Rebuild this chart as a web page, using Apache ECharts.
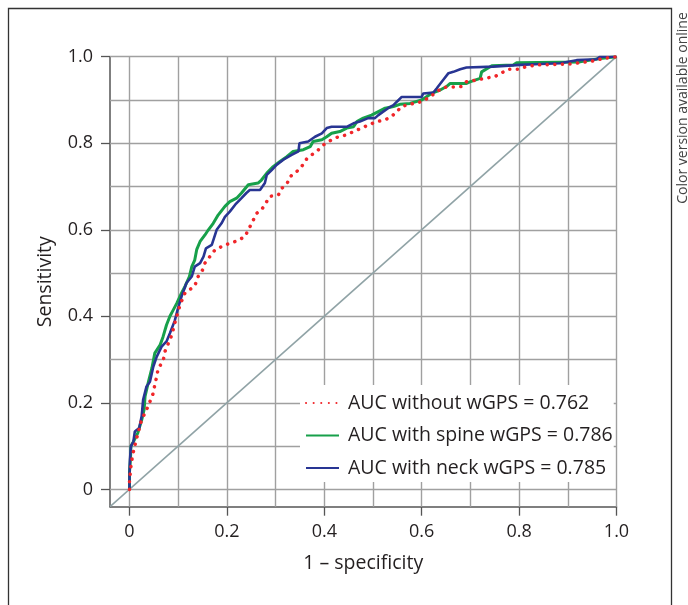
<!DOCTYPE html>
<html>
<head>
<meta charset="utf-8">
<script src="https://cdn.jsdelivr.net/npm/echarts@6/dist/echarts.min.js"></script>
<style>
html,body{margin:0;padding:0;background:#fff;}
#main{width:688px;height:605px;}
</style>
</head>
<body>
<div id="main"></div>
<script>
// ROC curves, points as [1 - specificity, sensitivity]
var withoutGps=[[0,0],[0,0.02],[0.003,0.053],[0.006,0.076],[0.009,0.092],[0.015,0.119],[0.025,0.161],[0.035,0.184],[0.042,0.203],[0.049,0.223],[0.052,0.242],[0.056,0.261],[0.059,0.28],[0.069,0.296],[0.073,0.319],[0.08,0.338],[0.087,0.357],[0.093,0.384],[0.104,0.427],[0.114,0.454],[0.134,0.47],[0.141,0.492],[0.15,0.507],[0.155,0.523],[0.165,0.538],[0.176,0.554],[0.189,0.561],[0.206,0.569],[0.22,0.574],[0.237,0.584],[0.244,0.6],[0.251,0.615],[0.261,0.638],[0.271,0.646],[0.278,0.658],[0.288,0.677],[0.306,0.681],[0.313,0.696],[0.324,0.708],[0.33,0.723],[0.343,0.734],[0.354,0.747],[0.364,0.764],[0.374,0.773],[0.388,0.785],[0.398,0.796],[0.415,0.808],[0.429,0.815],[0.445,0.819],[0.46,0.827],[0.477,0.835],[0.49,0.842],[0.508,0.85],[0.525,0.854],[0.538,0.862],[0.549,0.873],[0.559,0.885],[0.583,0.892],[0.6,0.896],[0.617,0.907],[0.631,0.919],[0.644,0.929],[0.682,0.931],[0.692,0.942],[0.713,0.946],[0.73,0.95],[0.75,0.954],[0.778,0.971],[0.798,0.971],[0.812,0.976],[0.836,0.981],[0.905,0.983],[0.925,0.986],[0.952,0.99],[0.973,0.996],[1,1]];
var spineGps=[[0,0],[0,0.04],[0.002,0.07],[0.003,0.1],[0.008,0.11],[0.017,0.13],[0.025,0.16],[0.03,0.184],[0.032,0.215],[0.039,0.249],[0.046,0.28],[0.052,0.315],[0.063,0.334],[0.069,0.353],[0.076,0.38],[0.083,0.4],[0.09,0.415],[0.097,0.43],[0.107,0.454],[0.114,0.469],[0.123,0.492],[0.128,0.515],[0.134,0.53],[0.138,0.554],[0.145,0.573],[0.155,0.588],[0.162,0.6],[0.172,0.615],[0.182,0.634],[0.196,0.654],[0.206,0.665],[0.22,0.673],[0.23,0.685],[0.244,0.704],[0.264,0.708],[0.271,0.715],[0.282,0.731],[0.295,0.746],[0.309,0.758],[0.323,0.769],[0.336,0.781],[0.357,0.785],[0.371,0.792],[0.377,0.804],[0.395,0.808],[0.405,0.815],[0.415,0.823],[0.432,0.827],[0.446,0.835],[0.46,0.838],[0.467,0.85],[0.48,0.858],[0.497,0.865],[0.511,0.873],[0.525,0.881],[0.542,0.885],[0.555,0.89],[0.576,0.892],[0.6,0.9],[0.62,0.915],[0.638,0.923],[0.651,0.931],[0.658,0.938],[0.692,0.938],[0.699,0.942],[0.72,0.95],[0.723,0.965],[0.744,0.979],[0.788,0.981],[0.795,0.986],[0.925,0.988],[0.966,0.996],[1,1]];
var neckGps=[[0,0],[0,0.03],[0.001,0.069],[0.003,0.1],[0.008,0.11],[0.011,0.134],[0.02,0.142],[0.025,0.169],[0.028,0.207],[0.035,0.238],[0.042,0.249],[0.049,0.284],[0.056,0.307],[0.066,0.33],[0.076,0.342],[0.083,0.361],[0.093,0.39],[0.1,0.42],[0.107,0.446],[0.117,0.477],[0.128,0.492],[0.134,0.515],[0.145,0.523],[0.152,0.538],[0.157,0.557],[0.169,0.565],[0.179,0.6],[0.189,0.615],[0.196,0.63],[0.206,0.642],[0.217,0.658],[0.23,0.673],[0.24,0.685],[0.247,0.692],[0.268,0.692],[0.278,0.708],[0.282,0.727],[0.292,0.738],[0.302,0.75],[0.316,0.762],[0.333,0.773],[0.347,0.781],[0.349,0.8],[0.367,0.804],[0.381,0.815],[0.395,0.823],[0.405,0.835],[0.415,0.838],[0.446,0.838],[0.46,0.846],[0.473,0.85],[0.49,0.858],[0.504,0.858],[0.511,0.865],[0.521,0.873],[0.531,0.881],[0.542,0.888],[0.549,0.896],[0.559,0.907],[0.6,0.907],[0.603,0.915],[0.624,0.917],[0.631,0.927],[0.644,0.946],[0.655,0.962],[0.665,0.965],[0.679,0.971],[0.692,0.975],[0.747,0.977],[0.802,0.981],[0.843,0.983],[0.884,0.985],[0.918,0.992],[0.959,0.994],[0.966,1],[1,1]];
var chanceLine=[[-0.04,-0.04],[1,1]];

var seriesNames=['AUC without wGPS = 0.762','AUC with spine wGPS = 0.786','AUC with neck wGPS = 0.785'];
var tickValues=[0,0.2,0.4,0.6,0.8,1.0];
var gridValues=[0,0.1,0.2,0.3,0.4,0.5,0.6,0.7,0.8,0.9,1.0];

var FONT='"Open Sans", "Noto Sans", sans-serif';
var chart=echarts.init(document.getElementById('main'),null,{renderer:'canvas'});

function fmt(v){ return v===0 ? '0' : v.toFixed(1); }

var gridLines=[];
gridValues.forEach(function(v){ gridLines.push({xAxis:v}); gridLines.push({yAxis:v}); });

var option={
  backgroundColor:'#fff',
  animation:false,
  grid:{left:110,top:56.7,right:71.5,bottom:98.3,containLabel:false},
  legend:{
    orient:'vertical',
    left:300, top:385,
    z:100,
    padding:[8,1,4,5],
    backgroundColor:'#fff',
    itemWidth:33, itemHeight:12, itemGap:12.5,
    itemStyle:{opacity:0},
    textStyle:{fontFamily:FONT,fontSize:19.5,color:'#231f20',padding:[0,0,0,4]},
    data:seriesNames
  },
  xAxis:{
    type:'value', min:-0.04, max:1,
    name:'1 \u2013 specificity', nameLocation:'middle', nameGap:47,
    nameTextStyle:{fontFamily:FONT,fontSize:19.5,color:'#231f20'},
    axisLine:{show:true,onZero:false,lineStyle:{color:'#555',width:1.5}},
    axisTick:{show:true,inside:false,length:9,customValues:tickValues,lineStyle:{color:'#555',width:1.3}},
    axisLabel:{customValues:tickValues,formatter:fmt,margin:16,fontFamily:FONT,fontSize:18,color:'#231f20'},
    splitLine:{show:false}
  },
  yAxis:{
    type:'value', min:-0.04, max:1,
    name:'Sensitivity', nameLocation:'middle', nameGap:55,
    nameTextStyle:{fontFamily:FONT,fontSize:19.5,color:'#231f20'},
    axisLine:{show:true,onZero:false,lineStyle:{color:'#555',width:1.5}},
    axisTick:{show:true,inside:false,length:9,customValues:tickValues,lineStyle:{color:'#555',width:1.3}},
    axisLabel:{customValues:tickValues,formatter:fmt,margin:17,fontFamily:FONT,fontSize:18,color:'#231f20'},
    splitLine:{show:false}
  },
  graphic:[
    {type:'rect',shape:{x:8.5,y:8.5,width:663,height:640},style:{fill:'none',stroke:'#333',lineWidth:1.3},silent:true,z:0},
    {type:'text',x:683,y:108,rotation:Math.PI/2,style:{text:'Color version available online',fontFamily:FONT,fontSize:14,fill:'#444',align:'center',verticalAlign:'middle'},silent:true}
  ],
  series:[
    {
      name:'grid', type:'line', data:[], silent:true, z:1,
      markLine:{silent:true,symbol:'none',label:{show:false},animation:false,z:1,
        lineStyle:{color:'#a0a0a0',width:1.4,type:'solid'},emphasis:{disabled:true},data:gridLines}
    },
    {
      name:'chance', type:'line', data:chanceLine, symbol:'none', silent:true, z:2,
      lineStyle:{color:'#90a3a6',width:1.6}
    },
    {
      name:seriesNames[1], type:'line', data:spineGps, symbol:'none', z:3,
      lineStyle:{color:'#17a04a',width:3}, itemStyle:{color:'#17a04a'}
    },
    {
      name:seriesNames[2], type:'line', data:neckGps, symbol:'none', z:4,
      lineStyle:{color:'#283593',width:2.6}, itemStyle:{color:'#283593'}
    },
    {
      name:seriesNames[0], type:'line', data:withoutGps, symbol:'none', z:5,
      lineStyle:{color:'#f0262a',width:3.5,type:[0.1,7.5],cap:'round'}, itemStyle:{color:'#f0262a'}
    }
  ]
};
chart.setOption(option);
</script>
</body>
</html>
